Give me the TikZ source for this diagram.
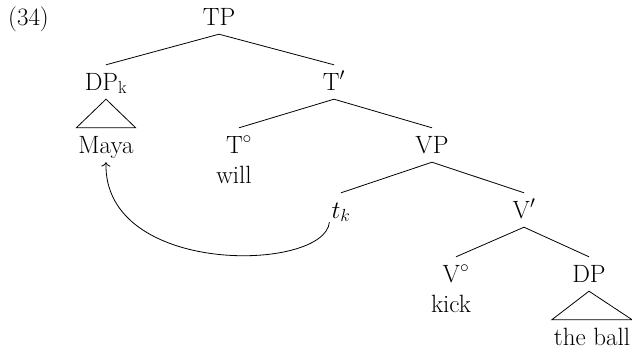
\RequirePackage{fix-cm}
\documentclass[tikz,border=0pt]{standalone}
\usepackage{fontspec}
\usetikzlibrary{arrows.meta}
\begin{document}
\begin{tikzpicture}[x=1pt,y=-1pt,
  lbl/.style={font=\fontsize{25}{30}\selectfont\addfontfeatures{FakeBold=1.0}, anchor=base, inner xsep=2pt, inner ysep=4pt, text height=21pt, text depth=5pt},
  branch/.style={line width=0.8pt},
  mvarrow/.style={line width=0.8pt, -{To[scale=1.3]}}]
\useasboundingbox (0,0) rectangle (632,351);
\node[lbl, anchor=base west, inner xsep=0pt] (ex) at (8,25) {(34)};
\node[lbl] (TP) at (219,25) {TP};
\node[lbl] (DPk) at (106,90) {DP\textsubscript{k}};
\node[lbl] (Tbar) at (334,90) {T$'$};
\node[lbl] (Maya) at (106,153) {Maya};
\node[lbl] (T0) at (239,153) {T$^{\circ}$};
\node[lbl] (will) at (234,183) {will};
\node[lbl] (VP) at (432,153) {VP};
\node[lbl] (tk) at (341,218) {$t_k$};
\node[lbl] (Vbar) at (524,218) {V$'$};
\node[lbl] (V0) at (456,282) {V$^{\circ}$};
\node[lbl] (kick) at (451,312) {kick};
\node[lbl] (DP) at (589,282) {DP};
\node[lbl] (ball) at (592,345) {the ball};
\draw[branch] (DPk.north) -- (TP.south) -- (Tbar.north);
\draw[branch] (T0.north) -- (Tbar.south) -- (VP.north);
\draw[branch] (tk.north) -- (VP.south) -- (Vbar.north);
\draw[branch] (V0.north) -- (Vbar.south) -- (DP.north);
\draw[branch] (DPk.south) -- (Maya.north west) -- (Maya.north east) -- cycle;
\draw[branch] (DP.south) -- (ball.north west) -- (ball.north east) -- cycle;
\draw[mvarrow] ([yshift=5pt]tk.south west) .. controls (325,272) and (103,277) .. (Maya.south);
\end{tikzpicture}
\end{document}
